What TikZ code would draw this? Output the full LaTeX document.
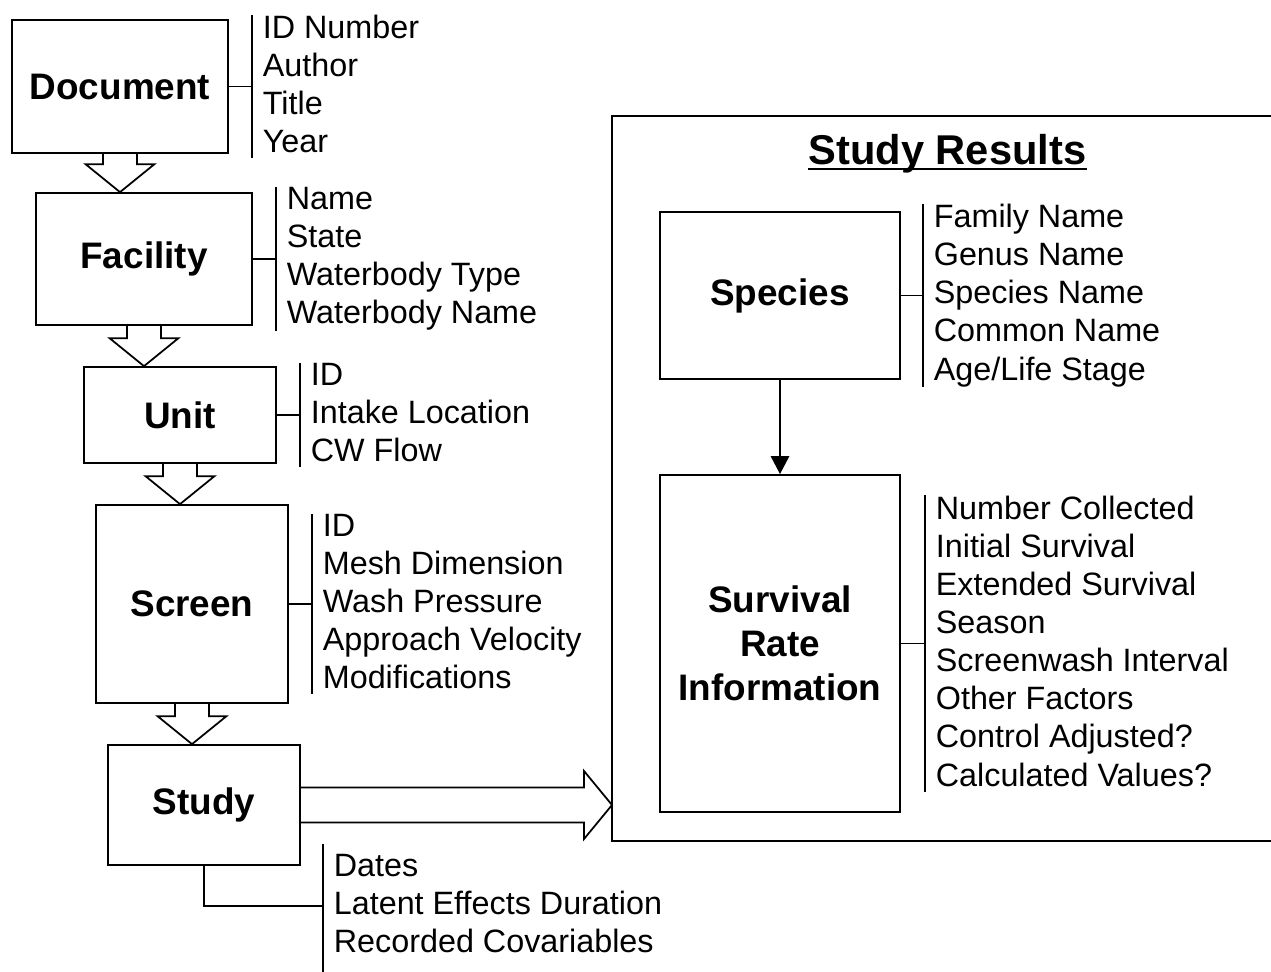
\documentclass[tikz,border=0pt]{standalone}
\usepackage{fontspec}
\setmainfont{Liberation Sans}
\usepackage{tikz}
\usetikzlibrary{arrows.meta,positioning,calc}

% hollow block arrow from the bottom of one box down to the top of the next
\newcommand{\hollowdown}[2]{%
  \draw[boxline]
    ($(#1.south)+(-0.34cm,0)$) -- ($(#1.south |- #2.north)+(-0.34cm,0.56cm)$)
    -- ($(#1.south |- #2.north)+(-0.69cm,0.56cm)$) -- (#1.south |- #2.north)
    -- ($(#1.south |- #2.north)+(0.69cm,0.56cm)$) -- ($(#1.south |- #2.north)+(0.34cm,0.56cm)$)
    -- ($(#1.south)+(0.34cm,0)$);}

\begin{document}
\begin{tikzpicture}[x=0.02cm, y=-0.02cm,
  boxline/.style={line width=1pt},
  entity/.style={draw, boxline, align=center, inner sep=0pt, font=\fontsize{21}{25}\selectfont\bfseries},
  attrlist/.style={anchor=west, align=left, inner xsep=0.21cm, inner ysep=0pt,
    font=\fontsize{18.4}{21.7}\selectfont,
    execute at begin node={\rule{0pt}{18.9pt}},
    execute at end node={\rule[-2.9pt]{0pt}{2.9pt}}}]
  \useasboundingbox (0,0) rectangle (1271,972);

  % left chain
  \node[entity, minimum width=4.32cm, minimum height=2.66cm] (doc) at (120,86.5) {Document};
  \node[entity, minimum width=4.32cm, minimum height=2.64cm] (fac) at (144,259) {Facility};
  \node[entity, minimum width=3.84cm, minimum height=1.92cm] (unit) at (180,415) {Unit};
  \node[entity, minimum width=3.84cm, minimum height=3.96cm] (scr) at (192,604) {Screen};
  \node[entity, minimum width=3.84cm, minimum height=2.40cm] (study) at (204,805) {Study};

  \hollowdown{doc}{fac}
  \hollowdown{fac}{unit}
  \hollowdown{unit}{scr}
  \hollowdown{scr}{study}

  % attribute lists
  \node[attrlist] (docattr) at (252,86.5) {ID Number\\Author\\Title\\Year};
  \node[attrlist] (facattr) at (276,259) {Name\\State\\Waterbody Type\\Waterbody Name};
  \node[attrlist] (unitattr) at (300,415) {ID\\Intake Location\\CW Flow};
  \node[attrlist] (scrattr) at (312,604) {ID\\Mesh Dimension\\Wash Pressure\\Approach Velocity\\Modifications};
  \node[attrlist] (studyattr) at (323,906) {Dates\\Latent Effects Duration\\Recorded Covariables};

  \foreach \b in {doc,fac,unit,scr} {
    \draw[boxline] (\b.east) -- (\b.east -| \b attr.west);
    \draw[boxline] (\b attr.north west) -- (\b attr.south west);
  }
  \draw[boxline] (study.south) |- (studyattr.west);
  \draw[boxline] ([yshift=0.2cm]studyattr.north west) -- ([yshift=-0.3cm]studyattr.south west);

  % study results panel
  \coordinate (resin) at (612,805);
  \draw[boxline] (1272,116) -| (612,841) -- (1272,841);
  \node[anchor=base, inner sep=0pt, font=\fontsize{23.7}{28}\selectfont\bfseries] (restitle) at (947.5,165) {Study Results};
  \draw[line width=1.4pt] ([yshift=-2.3pt]restitle.base west) -- ([yshift=-2.3pt]restitle.base east);

  \draw[boxline] ($(study.east)+(0,0.35cm)$) -- ($(resin)+(-0.56cm,0.35cm)$)
    -- ($(resin)+(-0.56cm,0.68cm)$) -- (resin) -- ($(resin)+(-0.56cm,-0.68cm)$)
    -- ($(resin)+(-0.56cm,-0.35cm)$) -- ($(study.east)+(0,-0.35cm)$);

  \node[entity, minimum width=4.8cm, minimum height=3.34cm] (spec) at (780,295.5) {Species};
  \node[entity, minimum width=4.8cm, minimum height=6.74cm] (surv) at (780,643.5) {Survival\\Rate\\Information};
  \draw[-{Triangle[length=3.6mm,width=3.6mm]}, line width=1.6pt] (spec.south) -- (surv.north);

  \node[attrlist] (specattr) at (923,295.5) {Family Name\\Genus Name\\Species Name\\Common Name\\Age/Life Stage};
  \node[attrlist] (survattr) at (925,643.5) {Number Collected\\Initial Survival\\Extended Survival\\Season\\Screenwash Interval\\Other Factors\\Control Adjusted?\\Calculated Values?};

  \foreach \b in {spec,surv} {
    \draw[boxline] (\b.east) -- (\b.east -| \b attr.west);
    \draw[boxline] (\b attr.north west) -- (\b attr.south west);
  }
\end{tikzpicture}
\end{document}
